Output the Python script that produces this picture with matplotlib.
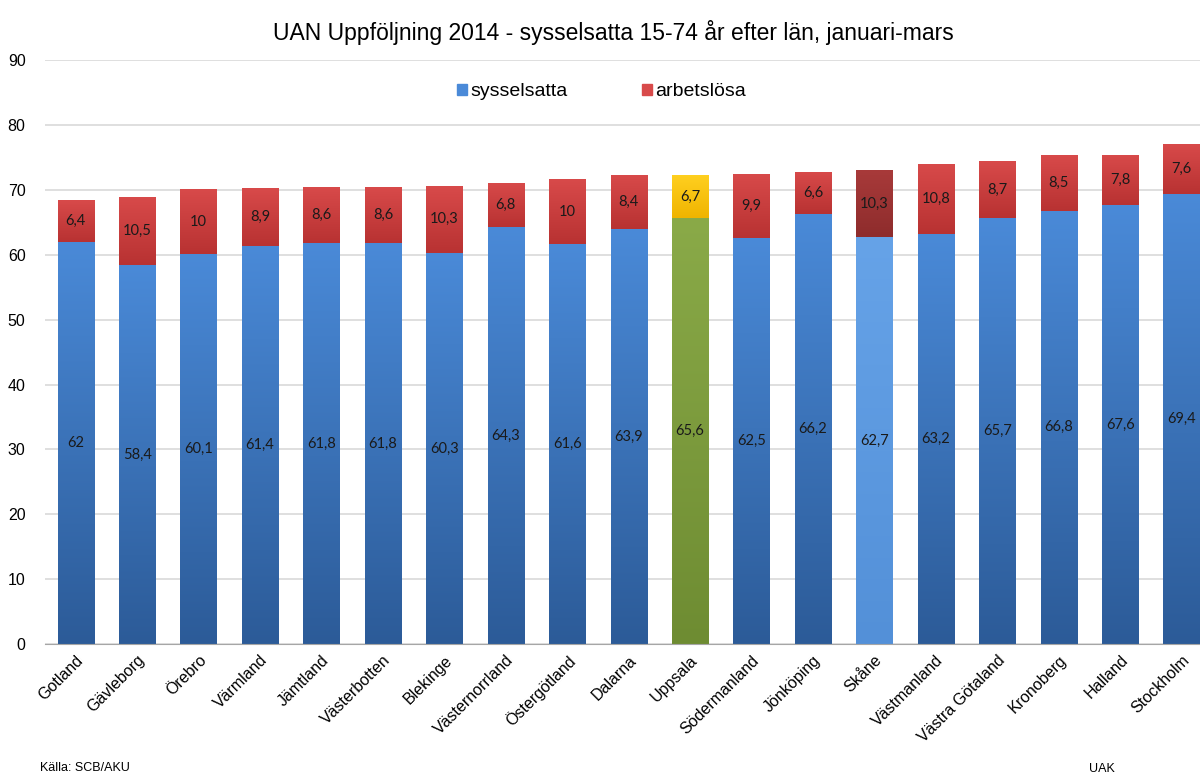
import numpy as np
import matplotlib
matplotlib.use("Agg")
import matplotlib.pyplot as plt
from matplotlib.colors import LinearSegmentedColormap

plt.rcParams['font.family'] = ['Liberation Sans', 'DejaVu Sans']

lan = ['Gotland', 'Gävleborg', 'Örebro', 'Värmland', 'Jämtland', 'Västerbotten',
       'Blekinge', 'Västernorrland', 'Östergötland', 'Dalarna', 'Uppsala',
       'Södermanland', 'Jönköping', 'Skåne', 'Västmanland', 'Västra Götaland',
       'Kronoberg', 'Halland', 'Stockholm']
sysselsatta = [62, 58.4, 60.1, 61.4, 61.8, 61.8, 60.3, 64.3, 61.6, 63.9, 65.6,
               62.5, 66.2, 62.7, 63.2, 65.7, 66.8, 67.6, 69.4]
arbetslosa = [6.4, 10.5, 10, 8.9, 8.6, 8.6, 10.3, 6.8, 10, 8.4, 6.7,
              9.9, 6.6, 10.3, 10.8, 8.7, 8.5, 7.8, 7.6]

# colour pairs (top, bottom) for the gradient fills
blue = ('#4a8ad8', '#2c5b98')
red = ('#d84a4a', '#b83232')
special_low = {'Uppsala': ('#8aaa48', '#6e8c32'), 'Skåne': ('#66a3e8', '#5390d8')}
special_high = {'Uppsala': ('#ffd020', '#f0b400'), 'Skåne': ('#a83a3a', '#8e2c2c')}


def fmt(v):
    s = f"{v:g}"
    return s.replace('.', ',')


def gradient_bar(ax, patch, colors):
    cmap = LinearSegmentedColormap.from_list('g', [colors[1], colors[0]])
    x0, y0 = patch.get_x(), patch.get_y()
    w, h = patch.get_width(), patch.get_height()
    grad = np.linspace(0, 1, 256).reshape(-1, 1)
    im = ax.imshow(grad, cmap=cmap, aspect='auto', origin='lower',
                   extent=(x0, x0 + w, y0, y0 + h), zorder=2)
    im.set_clip_path(patch)
    patch.set_facecolor('none')


fig = plt.figure(figsize=(12, 7.78), dpi=100)
ax = fig.add_axes([0.0375, 0.172, 0.9625, 0.751])

x = np.arange(len(lan))
width = 0.59
b1 = ax.bar(x, sysselsatta, width, color=blue[1], edgecolor='none', zorder=2,
            label='sysselsatta')
b2 = ax.bar(x, arbetslosa, width, bottom=sysselsatta, color=red[1],
            edgecolor='none', zorder=2, label='arbetslösa')

for i, name in enumerate(lan):
    gradient_bar(ax, b1[i], special_low.get(name, blue))
    gradient_bar(ax, b2[i], special_high.get(name, red))
    ax.text(x[i], sysselsatta[i] / 2, fmt(sysselsatta[i]), ha='center',
            va='center', fontsize=10.5, family=['Lato', 'DejaVu Sans'],
            color='#1a1a1a', zorder=4)
    ax.text(x[i], sysselsatta[i] + arbetslosa[i] / 2, fmt(arbetslosa[i]),
            ha='center', va='center', fontsize=10.5, family=['Lato', 'DejaVu Sans'],
            color='#1a1a1a', zorder=4)

ax.set_ylim(0, 90)
ax.set_xlim(-0.5, 18.3)
ax.set_yticks(range(0, 91, 10))
ax.yaxis.grid(True, color='#d9d9d9', linewidth=1.2, zorder=0)
ax.set_axisbelow(True)
for s in ['top', 'right', 'left']:
    ax.spines[s].set_visible(False)
ax.spines['bottom'].set_color('#a6a6a6')
ax.tick_params(axis='y', length=0, labelsize=11.5, pad=14)
ax.tick_params(axis='x', length=0, labelsize=11.5, pad=6)
ax.set_xticks(x)
ax.set_xticklabels(lan, rotation=45, ha='right', rotation_mode='anchor')

leg = ax.legend(handles=[plt.Rectangle((0, 0), 1, 1, color=blue[0]),
                         plt.Rectangle((0, 0), 1, 1, color=red[0])],
                labels=['sysselsatta', 'arbetslösa'], loc='upper center',
                bbox_to_anchor=(0.482, 0.99), ncol=2, frameon=False,
                fontsize=14, handlelength=0.5, handleheight=0.5,
                handletextpad=0.2, columnspacing=3.8)

fig.text(0.511, 0.958, 'UAN Uppföljning 2014 - sysselsatta 15-74 år efter län, januari-mars',
         ha='center', va='center', fontsize=16.5)
fig.text(0.033, 0.013, 'Källa: SCB/AKU', ha='left', va='center', fontsize=9)
fig.text(0.918, 0.011, 'UAK', ha='center', va='center', fontsize=9)

fig.savefig('out.png', dpi=100)
